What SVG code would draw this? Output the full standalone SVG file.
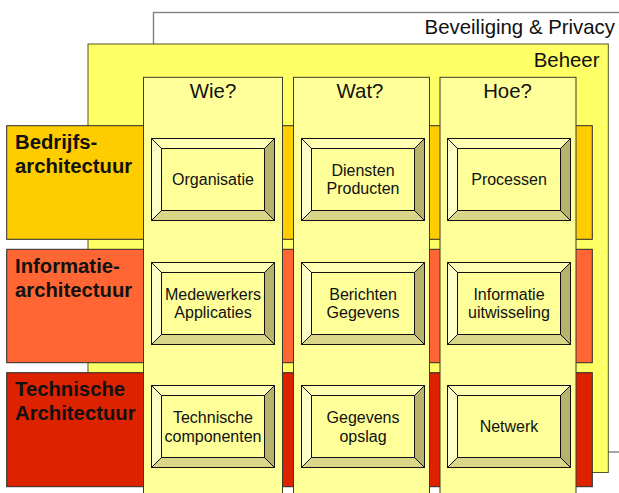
<svg xmlns="http://www.w3.org/2000/svg" xmlns:xlink="http://www.w3.org/1999/xlink" width="619" height="493" viewBox="0 0 619 493">
  <style>
    text { font-family: "Liberation Sans", Arial, sans-serif; fill: #111; }
    .title { font-size: 20.4px; }
    .band-label { font-size: 20.3px; font-weight: bold; }
    .cell { font-size: 16px; text-anchor: middle; }
    .head { font-size: 20.4px; text-anchor: middle; }
    .band { stroke: #2a2a2a; stroke-width: 1; }
    .col { fill: #FFFF99; stroke: #3a3a2a; stroke-width: 1; }
  </style>
  <defs>
    <!-- bevelled "button" used for every cell, 123 x 82 -->
    <g id="btn" stroke="#111" stroke-width="1" stroke-linejoin="miter">
      <rect x="0" y="0" width="123" height="82" fill="#FFFF99"/>
      <polygon points="0,0 123,0 113,10 10,10" fill="#FFFFB4"/>
      <polygon points="0,0 10,10 10,72 0,82" fill="#FFFFCA"/>
      <polygon points="123,0 123,82 113,72 113,10" fill="#B7B36C"/>
      <polygon points="0,82 10,72 113,72 123,82" fill="#DAD688"/>
      <rect x="10" y="10" width="103" height="62" fill="#FFFF99"/>
    </g>
  </defs>

  <!-- outer frames -->
  <g id="beveiliging">
    <rect x="153.5" y="12.5" width="480" height="439.5" fill="#FFFFFF" stroke="#808080" stroke-width="1.4"/>
    <text class="title" x="615" y="34.3" text-anchor="end">Beveiliging &amp; Privacy</text>
  </g>
  <g id="beheer">
    <rect x="88" y="44" width="520.3" height="428.5" fill="#FFFF66" stroke="#55552a" stroke-width="1"/>
    <text class="title" x="599.5" y="66.7" text-anchor="end">Beheer</text>
  </g>

  <!-- architecture layers -->
  <g id="bedrijfs">
    <rect class="band" x="6.7" y="125.7" width="585.6" height="113.6" fill="#FFCC00"/>
  </g>
  <g id="informatie">
    <rect class="band" x="6.7" y="249.3" width="585.6" height="113.4" fill="#FF6633"/>
  </g>
  <g id="technische">
    <rect class="band" x="6.7" y="372.7" width="585.6" height="114" fill="#DD2200"/>
  </g>

  <!-- question columns -->
  <g id="wie">
    <rect class="col" x="143.5" y="77.3" width="139" height="430"/>
    <text class="head" x="213" y="98.3">Wie?</text>
  </g>
  <g id="wat">
    <rect class="col" x="293.5" y="77.3" width="136" height="430"/>
    <text class="head" x="360" y="98.3">Wat?</text>
  </g>
  <g id="hoe">
    <rect class="col" x="440" y="77.3" width="136" height="430"/>
    <text class="head" x="507.5" y="98.3">Hoe?</text>
  </g>

  <!-- layer labels -->
  <g id="bedrijfs-label">
    <text class="band-label" x="15" y="148.5">Bedrijfs-</text>
    <text class="band-label" x="15" y="173.3">architectuur</text>
  </g>
  <g id="informatie-label">
    <text class="band-label" x="15" y="272.7">Informatie-</text>
    <text class="band-label" x="15" y="297">architectuur</text>
  </g>
  <g id="technische-label">
    <text class="band-label" x="15" y="395.5">Technische</text>
    <text class="band-label" x="15" y="420">Architectuur</text>
  </g>

  <!-- cells -->
  <g id="organisatie">
    <use xlink:href="#btn" x="151.5" y="138.5"/>
    <text class="cell" x="213" y="185">Organisatie</text>
  </g>
  <g id="diensten-producten">
    <use xlink:href="#btn" x="301.5" y="138.5"/>
    <text class="cell" x="363" y="176">Diensten</text>
    <text class="cell" x="363" y="194">Producten</text>
  </g>
  <g id="processen">
    <use xlink:href="#btn" x="447.5" y="138.5"/>
    <text class="cell" x="509" y="185">Processen</text>
  </g>

  <g id="medewerkers-applicaties">
    <use xlink:href="#btn" x="151.5" y="262.5"/>
    <text class="cell" x="213" y="300">Medewerkers</text>
    <text class="cell" x="213" y="318">Applicaties</text>
  </g>
  <g id="berichten-gegevens">
    <use xlink:href="#btn" x="301.5" y="262.5"/>
    <text class="cell" x="363" y="300">Berichten</text>
    <text class="cell" x="363" y="318">Gegevens</text>
  </g>
  <g id="informatie-uitwisseling">
    <use xlink:href="#btn" x="447.5" y="262.5"/>
    <text class="cell" x="509" y="300">Informatie</text>
    <text class="cell" x="509" y="318">uitwisseling</text>
  </g>

  <g id="technische-componenten">
    <use xlink:href="#btn" x="151.5" y="385.5"/>
    <text class="cell" x="213" y="423.3">Technische</text>
    <text class="cell" x="213" y="441.5">componenten</text>
  </g>
  <g id="gegevens-opslag">
    <use xlink:href="#btn" x="301.5" y="385.5"/>
    <text class="cell" x="363" y="423.3">Gegevens</text>
    <text class="cell" x="363" y="441.5">opslag</text>
  </g>
  <g id="netwerk">
    <use xlink:href="#btn" x="447.5" y="385.5"/>
    <text class="cell" x="509" y="431.7">Netwerk</text>
  </g>

  <!-- no connectors in this diagram -->
  <g id="connectors"/>
</svg>
